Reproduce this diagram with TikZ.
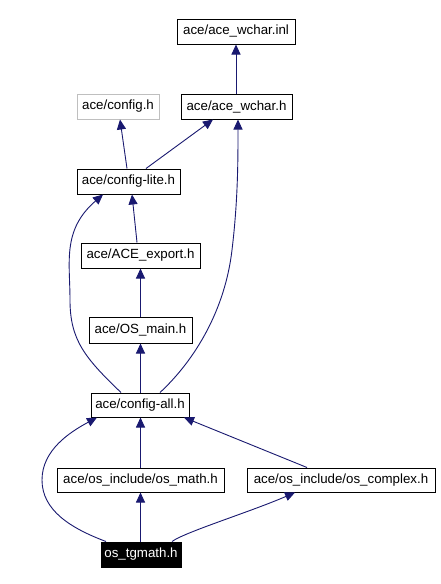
\documentclass[tikz,border=0pt]{standalone}
\usepackage{fontspec}
\setmainfont{Liberation Sans}
\usetikzlibrary{arrows.meta}
\definecolor{edgeblue}{HTML}{191970}
\definecolor{lightgray}{HTML}{BFBFBF}
\begin{document}
\begin{tikzpicture}[x=1pt,y=-1pt,
  box/.style={draw=black,line width=1pt,fill=white,inner sep=0pt,
    font=\fontsize{13.3}{16}\selectfont,text=black},
  graybox/.style={box,draw=lightgray},
  rootbox/.style={box,fill=black,text=white},
  edge/.style={draw=edgeblue,line width=0.9pt,
    -{Triangle[length=10pt,width=9pt]}}]
\useasboundingbox (0,0) rectangle (440,584);
\fill[white] (0,0) rectangle (440,584);
\node[box,minimum width=118pt,minimum height=25pt] (inl) at (236,31.5) {ace/ace\_wchar.inl};
\node[graybox,minimum width=82pt,minimum height=25pt] (cfg) at (118,106.5) {ace/config.h};
\node[box,minimum width=111pt,minimum height=25pt] (wch) at (236.5,106.5) {ace/ace\_wchar.h};
\node[box,minimum width=103pt,minimum height=25pt] (lite) at (128.5,181.5) {ace/config-lite.h};
\node[box,minimum width=119pt,minimum height=25pt] (exp) at (140.5,255.5) {ace/ACE\_export.h};
\node[box,minimum width=103pt,minimum height=26pt] (osm) at (140.5,330) {ace/OS\_main.h};
\node[box,minimum width=98pt,minimum height=24pt] (all) at (140,405) {ace/config-all.h};
\node[box,minimum width=167pt,minimum height=24pt] (math) at (140.5,480) {ace/os\_include/os\_math.h};
\node[box,minimum width=188pt,minimum height=24pt] (cplx) at (341,480) {ace/os\_include/os\_complex.h};
\node[rootbox,minimum width=80pt,minimum height=25pt] (tg) at (141,554.5) {os\_tgmath.h};

\draw[edge] (wch.north -| 236,0) -- (inl.south -| 236,0);
\draw[edge] (lite.north -| 127,0) -- (cfg.south -| 120,0);
\draw[edge] (lite.north -| 146,0) -- (wch.south -| 213,0);
\draw[edge] (exp.north -| 137,0) -- (lite.south -| 132,0);
\draw[edge] (osm.north) -- (exp.south -| osm.north);
\draw[edge] (all.north -| osm.south) -- (osm.south);
\draw[edge] (all.north -| 121,0) .. controls (85,358) and (70,340) .. (70,300)
   .. controls (70,262) and (62,230) .. (lite.south -| 103,0);
\draw[edge] (all.north -| 160,0) .. controls (195,360) and (225,310) .. (232,250)
   .. controls (238,200) and (238,160) .. (wch.south -| 238,0);
\draw[edge] (math.north -| osm.south) -- (all.south -| osm.south);
\draw[edge] (cplx.north -| 307,0) -- (all.south -| 184,0);
\draw[edge] (tg.north -| 106,0) .. controls (70,528) and (42,510) .. (42,480)
   .. controls (42,450) and (70,432) .. (all.south -| 97,0);
\draw[edge] (tg.north -| osm.south) -- (math.south -| osm.south);
\draw[edge] (tg.north -| 172,0) .. controls (185,532) and (250,512) .. (cplx.south -| 295,0);
\end{tikzpicture}
\end{document}
